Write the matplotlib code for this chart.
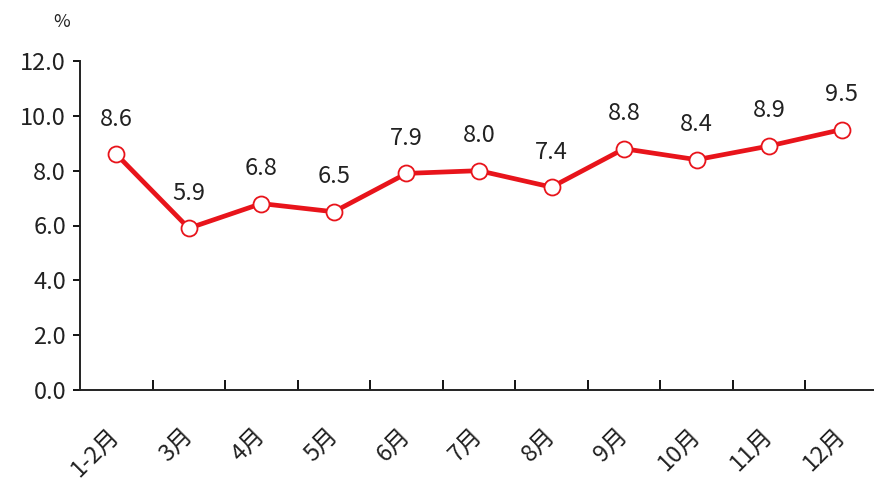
import matplotlib
matplotlib.use("Agg")
import matplotlib.pyplot as plt

plt.rcParams['font.family'] = ['Noto Sans CJK SC', 'DejaVu Sans']

categories = ["1-2月", "3月", "4月", "5月", "6月", "7月", "8月", "9月", "10月", "11月", "12月"]
values = [8.6, 5.9, 6.8, 6.5, 7.9, 8.0, 7.4, 8.8, 8.4, 8.9, 9.5]
yticks = [0, 2, 4, 6, 8, 10, 12]

fig = plt.figure(figsize=(8.74, 4.82), dpi=100)
ax = fig.add_axes([80/874, 1-390/482, 798/874, 329/482])

x = list(range(len(categories)))
ax.plot(x, values, color="#E8141B", lw=3.4, marker="o", ms=11.5,
        mfc="white", mec="#E8141B", mew=1.3, zorder=3, clip_on=False)
for xi, v in zip(x, values):
    ax.annotate(f"{v:.1f}", (xi, v), xytext=(0, 17), textcoords="offset points",
                ha="center", va="bottom", fontsize=17, color="#222222")

ax.set_xlim(-0.5, len(categories) - 0.5)
ax.set_ylim(0, 12)
ax.set_yticks(yticks)
ax.set_yticklabels([f"{t:.1f}" for t in yticks], fontsize=17, color="#222222")
ax.tick_params(axis="y", direction="out", length=5, width=1.3, pad=5)

ax.set_xticks([i + 0.5 for i in range(len(categories) - 1)], minor=False)
ax.set_xticklabels([])
ax.set_xticks(x, minor=True)
ax.set_xticklabels(categories, minor=True, rotation=45, ha="right", va="center",
                   rotation_mode="anchor", fontsize=17, color="#222222")
ax.tick_params(axis="x", which="major", direction="in", length=7, width=1.3)
ax.tick_params(axis="x", which="minor", length=0, pad=30)

for s in ["top", "right"]:
    ax.spines[s].set_visible(False)
for s in ["left", "bottom"]:
    ax.spines[s].set_linewidth(1.4)
    ax.spines[s].set_color("#222222")

fig.text(62/874, 1-22/482, "%", ha="center", va="center", fontsize=13, color="#222222")

fig.savefig("out.png", dpi=100)
